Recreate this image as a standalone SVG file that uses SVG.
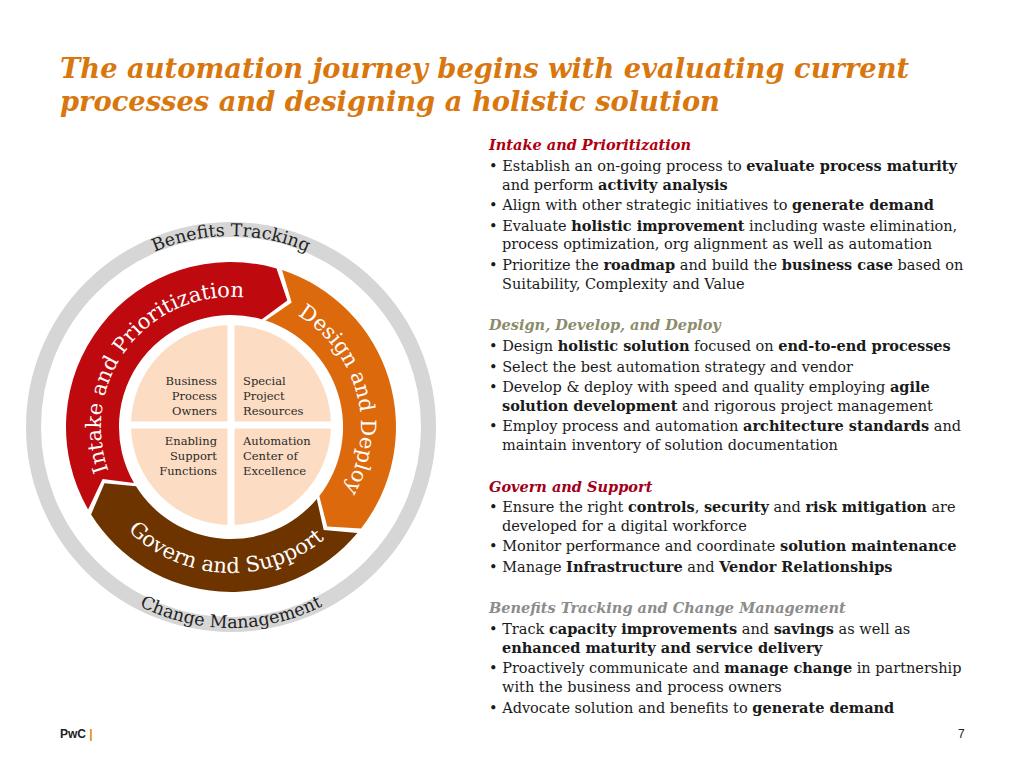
<svg xmlns="http://www.w3.org/2000/svg" width="1024" height="768" viewBox="0 0 1024 768">
<style>
.t{font-family:"DejaVu Serif","Liberation Serif",serif;font-size:14.5px;fill:#1a1a1a}
.h{font-weight:bold;font-style:italic}
.b{font-weight:bold}
.q{font-family:"DejaVu Serif","Liberation Serif",serif;font-size:11.5px;fill:#2a2a2a}
.band{font-family:"DejaVu Serif","Liberation Serif",serif;font-size:21px;fill:#fff}
.ring{font-family:"DejaVu Serif","Liberation Serif",serif;font-size:17.5px;fill:#222}
</style>
<defs>
<path id="pTop" d="M40 427 A191 191 0 0 1 422 427"/>
<path id="pBot" d="M30 427 A201 201 0 0 0 432 427"/>
<path id="pRed" d="M118.4 492 A130 130 0 0 1 266.8 302"/>
<path id="pOr" d="M279.7 306.5 A130 130 0 0 1 333.4 507"/>
<path id="pBr" d="M111.4 510.7 A146 146 0 0 0 342.8 520.8"/>
</defs>
<rect width="1024" height="768" fill="#fff"/>
<text x="60" y="78" font-family="DejaVu Serif,serif" font-size="27.3" font-weight="bold" font-style="italic" fill="#d9770f">The automation journey begins with evaluating current</text>
<text x="60" y="111" font-family="DejaVu Serif,serif" font-size="27.3" font-weight="bold" font-style="italic" fill="#d9770f">processes and designing a holistic solution</text>

<g id="wheel">
<circle cx="231" cy="427" r="197.5" fill="none" stroke="#d6d6d6" stroke-width="15"/>
<text class="ring"><textPath href="#pTop" startOffset="50%" text-anchor="middle">Benefits Tracking</textPath></text>
<text class="ring"><textPath href="#pBot" startOffset="50%" text-anchor="middle">Change Management</textPath></text>
<path id="red" d="M88.1 509.5 A165 165 0 0 1 276.5 268.4 L287.3 300.5 L261.9 319.3 A112 112 0 0 0 134 483 L102.6 478.9 Z" fill="#be0a0f"/>
<path id="orange" d="M282 270.1 A165 165 0 0 1 361 528.6 L327.2 526.6 L319.3 496 A112 112 0 0 0 265.6 320.5 L291.7 302.5 Z" fill="#dc6a0c"/>
<path id="brown" d="M357.4 533.1 A165 165 0 0 1 91.1 514.4 L104.5 483.3 L136 486.3 A112 112 0 0 0 316.8 499 L323.7 529.9 Z" fill="#6d3400"/>
<text class="band"><textPath href="#pRed" startOffset="50%" text-anchor="middle">Intake and Prioritization</textPath></text>
<text class="band"><textPath href="#pOr" startOffset="50%" text-anchor="middle">Design and Deploy</textPath></text>
<text class="band"><textPath href="#pBr" startOffset="50%" text-anchor="middle">Govern and Support</textPath></text>
<circle cx="231" cy="425" r="100" fill="#fcdcc2"/>
<path d="M231 320 V530 M126 425 H336" stroke="#fff" stroke-width="7"/>
<g class="q" text-anchor="end">
<text x="217" y="385">Business</text><text x="217" y="400">Process</text><text x="217" y="415">Owners</text>
<text x="217" y="445">Enabling</text><text x="217" y="460">Support</text><text x="217" y="475">Functions</text>
</g>
<g class="q">
<text x="243" y="385">Special</text><text x="243" y="400">Project</text><text x="243" y="415">Resources</text>
<text x="243" y="445">Automation</text><text x="243" y="460">Center of</text><text x="243" y="475">Excellence</text>
</g>
</g>

<g id="text" class="t">
<text x="489" y="150" class="h" fill="#b00010">Intake and Prioritization</text>
<text x="489" y="171">• Establish an on-going process to <tspan class="b">evaluate process maturity</tspan></text>
<text x="502" y="190">and perform <tspan class="b">activity analysis</tspan></text>
<text x="489" y="210">• Align with other strategic initiatives to <tspan class="b">generate demand</tspan></text>
<text x="489" y="231">• Evaluate <tspan class="b">holistic improvement</tspan> including waste elimination,</text>
<text x="502" y="249">process optimization, org alignment as well as automation</text>
<text x="489" y="270">• Prioritize the <tspan class="b">roadmap</tspan> and build the <tspan class="b">business case</tspan> based on</text>
<text x="502" y="289">Suitability, Complexity and Value</text>

<text x="489" y="330" class="h" fill="#8c8c6c">Design, Develop, and Deploy</text>
<text x="489" y="351">• Design <tspan class="b">holistic solution</tspan> focused on <tspan class="b">end-to-end processes</tspan></text>
<text x="489" y="372">• Select the best automation strategy and vendor</text>
<text x="489" y="392">• Develop &amp; deploy with speed and quality employing <tspan class="b">agile</tspan></text>
<text x="502" y="411"><tspan class="b">solution development</tspan> and rigorous project management</text>
<text x="489" y="431">• Employ process and automation <tspan class="b">architecture standards</tspan> and</text>
<text x="502" y="450">maintain inventory of solution documentation</text>

<text x="489" y="492" class="h" fill="#a0001a">Govern and Support</text>
<text x="489" y="512">• Ensure the right <tspan class="b">controls</tspan>, <tspan class="b">security</tspan> and <tspan class="b">risk mitigation</tspan> are</text>
<text x="502" y="531">developed for a digital workforce</text>
<text x="489" y="551">• Monitor performance and coordinate <tspan class="b">solution maintenance</tspan></text>
<text x="489" y="572">• Manage <tspan class="b">Infrastructure</tspan> and <tspan class="b">Vendor Relationships</tspan></text>

<text x="489" y="613" class="h" fill="#8c8c8c">Benefits Tracking and Change Management</text>
<text x="489" y="634">• Track <tspan class="b">capacity improvements</tspan> and <tspan class="b">savings</tspan> as well as</text>
<text x="502" y="653"><tspan class="b">enhanced maturity and service delivery</tspan></text>
<text x="489" y="673">• Proactively communicate and <tspan class="b">manage change</tspan> in partnership</text>
<text x="502" y="692">with the business and process owners</text>
<text x="489" y="713">• Advocate solution and benefits to <tspan class="b">generate demand</tspan></text>
</g>
<text x="60" y="738" font-family="Liberation Sans,Arial,sans-serif" font-size="12" font-weight="bold" fill="#222">PwC <tspan fill="#e08a00">|</tspan></text>
<text x="958" y="738" font-family="Liberation Sans,Arial,sans-serif" font-size="12" fill="#222">7</text>
</svg>
